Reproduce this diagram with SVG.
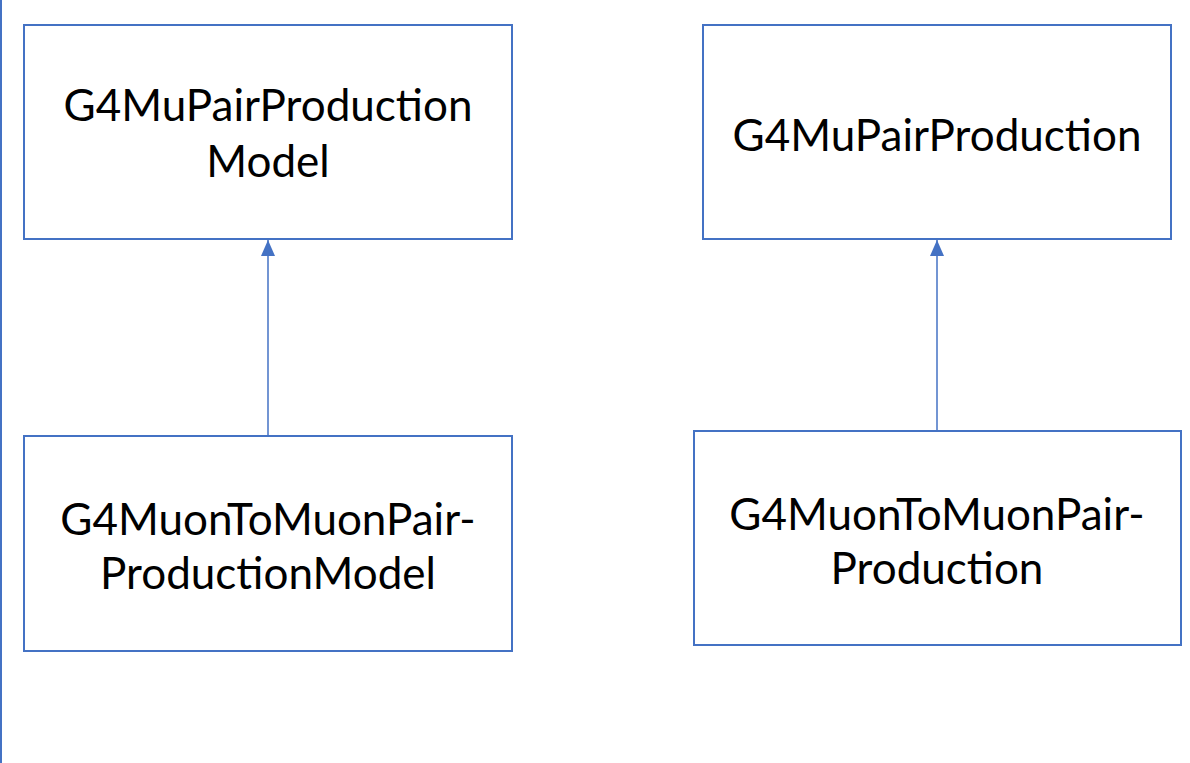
<svg xmlns="http://www.w3.org/2000/svg" width="1190" height="763" viewBox="0 0 1190 763">
<style>
.box{fill:#fff;stroke:#4472C4;stroke-width:2}
.t{font-family:Lato,"Open Sans",sans-serif;font-size:44px;fill:#000;text-anchor:middle}
.c{stroke:#4472C4;stroke-width:1.5;fill:none}
</style>
<defs>
<marker id="ah" viewBox="0 0 16 14" refX="16" refY="7" markerWidth="16" markerHeight="14" markerUnits="userSpaceOnUse" orient="auto">
<path d="M0,0 L16,7 L0,14 Z" fill="#4472C4"/>
</marker>
</defs>
<rect width="1190" height="763" fill="#fff"/>
<line x1="1" y1="0" x2="1" y2="763" stroke="#4472C4" stroke-width="2"/>
<g id="n1"><rect class="box" x="24" y="25" width="488" height="214"/>
<text class="t" x="268" y="121">G4MuPairProduction</text><text class="t" x="268" y="177">Model</text></g>
<g id="n2"><rect class="box" x="703" y="25" width="468" height="214"/>
<text class="t" x="937" y="151">G4MuPairProduction</text></g>
<g id="n3"><rect class="box" x="24" y="436" width="488" height="215"/>
<text class="t" x="268" y="535">G4MuonToMuonPair-</text><text class="t" x="268" y="589">ProductionModel</text></g>
<g id="n4"><rect class="box" x="694" y="431" width="487" height="214"/>
<text class="t" x="937" y="530">G4MuonToMuonPair-</text><text class="t" x="937" y="584">Production</text></g>
<g id="connectors">
<line class="c" x1="268" y1="436" x2="268" y2="240" marker-end="url(#ah)"/>
<line class="c" x1="937" y1="431" x2="937" y2="240" marker-end="url(#ah)"/>
</g>
</svg>
